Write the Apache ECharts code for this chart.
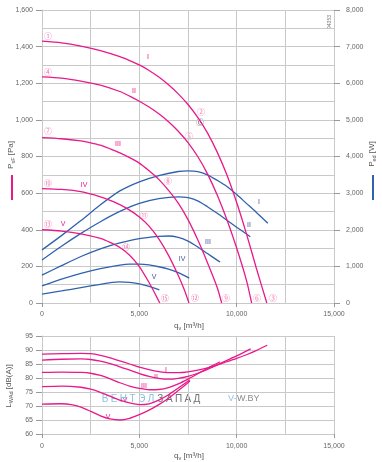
<!DOCTYPE html>
<html><head><meta charset="utf-8">
<script src="https://cdn.jsdelivr.net/npm/echarts@6/dist/echarts.min.js"></script>
<style>html,body{margin:0;padding:0;background:#fff}#c{width:382px;height:462px}</style>
</head><body><div id="c"></div>
<script>
// ---- Pressure curves P_sF [Pa] (left axis) ----
const qPI   = [0,1000,2000,3000,4000,4500,5000,5500,6000,6500,7000,7500,8000,8500,9000,9500,10000,10500,11000,11550];
const pI    = [1430,1421,1403,1378,1345,1324,1300,1270,1234,1192,1142,1084,1014,929,824,699,549,379,194,0];
const qPII  = [0,1000,2000,3000,4000,4500,5000,5500,6000,6500,7000,7500,8000,8500,9000,9500,10000,10500,10770];
const pII   = [1235,1228,1212,1190,1155,1130,1102,1070,1033,990,938,876,800,705,590,455,300,125,0];
const qPIII = [0,1000,2000,2500,3000,3500,4000,4500,5000,5500,6000,6500,7000,7500,8000,8500,9000,9230];
const pIII  = [903,897,885,875,862,842,820,794,764,722,675,615,545,455,345,220,85,0];
const qPIV  = [0,1000,2000,3000,3500,4000,4500,5000,5500,6000,6500,7000,7300,7550];
const pIV   = [625,620,608,580,560,537,507,470,420,350,260,150,75,0];
const qPV   = [0,1000,2000,3000,3500,4000,4500,5000,5500,5800,6050];
const pV    = [400,393,378,353,331,303,261,199,112,52,0];

// ---- Power curves P_ed [W] (right axis) ----
const qWI   = [0,1000,2000,3000,4000,5000,6000,7000,7500,8000,8500,9000,9500,10000,10500,11000,11600];
const wI    = [1450,1840,2250,2680,3060,3310,3480,3590,3610,3590,3500,3350,3180,2960,2720,2480,2180];
const qWII  = [0,1000,2000,3000,4000,5000,6000,7000,7500,8000,8500,9000,9500,10000,10700];
const wII   = [1175,1550,1900,2220,2500,2720,2850,2900,2880,2790,2630,2450,2260,2070,1810];
const qWIII = [0,1000,2000,3000,4000,5000,6000,6500,7000,7500,8000,8500,9000,9150];
const wIII  = [760,1020,1270,1480,1640,1760,1820,1830,1790,1690,1530,1350,1170,1120];
const qWIV  = [0,1000,2000,3000,4000,4500,5000,5500,6000,6500,7000,7560];
const wIV   = [465,650,810,940,1035,1060,1060,1040,990,925,830,680];
const qWV   = [0,1000,2000,3000,3500,4000,4500,5000,5500,6030];
const wV    = [245,330,420,510,555,575,565,520,455,360];

// ---- Sound power L_WAd [dB(A)] (lower chart) ----
const qNI   = [0,1000,2000,2500,3000,3500,4000,4500,5000,5500,6000,6500,7000,7500,8000,8500,9000,9500,10000,10500,11000,11570];
const nI    = [88.5,88.7,88.8,88.7,88.1,87.2,86.1,85.0,83.9,83.0,82.3,81.9,81.9,82.2,82.8,83.6,84.6,85.8,87.0,88.3,89.8,91.7];
const qNII  = [0,1000,2000,2500,3000,3500,4000,4500,5000,5500,6000,6500,7000,7500,8000,8500,9000,9500,10000,10720];
const nII   = [86.4,86.7,86.8,86.6,86.0,85.1,84.0,82.8,81.6,80.6,79.9,79.6,79.9,80.6,81.7,83.1,84.7,86.3,87.9,90.4];
const qNIII = [0,1000,2000,2500,3000,3500,4000,4500,5000,5500,6000,6500,7000,7500,8000,8500,9150];
const nIII  = [82.0,82.1,82.0,81.7,80.9,79.7,78.3,77.1,76.3,75.8,75.9,76.6,77.9,79.6,81.5,83.5,85.8];
const qNIV  = [0,1000,2000,2500,3000,3500,4000,4500,5000,5500,6000,6500,7000,7600];
const nIV   = [76.9,77.1,76.7,76.0,74.9,73.5,72.1,71.1,70.5,70.8,72.1,74.0,76.4,79.4];
const qNV   = [0,1000,1500,2000,2500,3000,3500,4000,4500,5000,5500,6000,6500,7000,7500,7600];
const nV    = [70.7,70.8,70.5,69.6,68.1,66.5,65.4,65.0,65.6,66.9,68.5,70.5,72.8,75.5,78.3,78.9];

const speedNames = ['I','II','III','IV','V'];

const PINK = '#e8198b', BLUE = '#2f62ad', GRID = '#c9c9c9', TXT = '#666';
const FONT = 'Liberation Sans, Arial, sans-serif';
const zip = (a,b) => a.map((x,i)=>[x,b[i]]);
const fmt = v => String(v).replace(/\B(?=(\d{3})+(?!\d))/g, ',');

function line(name, q, v, xi, yi, color){
  return {name, type:'line', xAxisIndex:xi, yAxisIndex:yi, data:zip(q,v), showSymbol:false,
    smooth:0.25, lineStyle:{color, width:1.3}, silent:true, z:yi===1?2:3};
}
const series = [
  line('PI',qPI,pI,0,0,PINK), line('PII',qPII,pII,0,0,PINK), line('PIII',qPIII,pIII,0,0,PINK),
  line('PIV',qPIV,pIV,0,0,PINK), line('PV',qPV,pV,0,0,PINK),
  line('WI',qWI,wI,0,1,BLUE), line('WII',qWII,wII,0,1,BLUE), line('WIII',qWIII,wIII,0,1,BLUE),
  line('WIV',qWIV,wIV,0,1,BLUE), line('WV',qWV,wV,0,1,BLUE),
  line('NI',qNI,nI,1,2,PINK), line('NII',qNII,nII,1,2,PINK), line('NIII',qNIII,nIII,1,2,PINK),
  line('NIV',qNIV,nIV,1,2,PINK), line('NV',qNV,nV,1,2,PINK)
];

const axLabel = {fontSize:7, color:TXT, fontFamily:FONT, formatter:fmt};
const split = {show:true, lineStyle:{color:GRID, width:1}};
function xAxis(gi, margin){
  return {type:'value', gridIndex:gi, min:0, max:15000, interval:5000,
    axisLine:{show:true, lineStyle:{color:GRID}}, axisTick:{show:true, length:4, lineStyle:{color:'#999'}},
    minorTick:{show:false, splitNumber:2}, minorSplitLine:split, splitLine:split,
    axisLabel:Object.assign({margin}, axLabel)};
}
const option = {
  animation:false,
  grid:[{left:42, top:10, width:292, height:293},{left:42, top:336, width:292, height:98}],
  xAxis:[xAxis(0,8), xAxis(1,9)],
  yAxis:[
    {type:'value', gridIndex:0, min:0, max:1600, interval:200, position:'left',
     axisLine:{show:true, lineStyle:{color:GRID}}, axisTick:{show:true, length:6, lineStyle:{color:'#999'}},
     minorTick:{show:false, splitNumber:2}, minorSplitLine:split, splitLine:split,
     axisLabel:Object.assign({margin:9}, axLabel)},
    {type:'value', gridIndex:0, min:0, max:8000, interval:1000, position:'right',
     axisLine:{show:true, lineStyle:{color:GRID}}, axisTick:{show:true, length:6, lineStyle:{color:'#999'}},
     splitLine:{show:false}, axisLabel:Object.assign({margin:12}, axLabel)},
    {type:'value', gridIndex:1, min:60, max:95, interval:5, position:'left',
     axisLine:{show:true, lineStyle:{color:GRID}}, axisTick:{show:true, length:6, lineStyle:{color:'#999'}},
     splitLine:split, axisLabel:Object.assign({margin:9}, axLabel)}
  ],
  series,
  graphic:[]
};

const G = option.graphic;
const rich = {a:{fontSize:8, color:'#555', fontFamily:FONT}, s:{fontSize:5.5, color:'#555', fontFamily:FONT, padding:[4,0,0,0]}};
function rtext(x,y,text,rot){
  G.push({type:'text', x, y, rotation:rot||0, silent:true,
    style:{text, rich, align:'center', verticalAlign:'middle', fill:'#555'}});
}
// axis titles
rtext(11,155,'{a|P}{s|sF}{a| [Pa]}',Math.PI/2);
rtext(372,154,'{a|P}{s|ed}{a| [W]}',Math.PI/2);
rtext(189,326,'{a|q}{s|v}{a| [m³/h]}',0);
rtext(189,456,'{a|q}{s|v}{a| [m³/h]}',0);
rtext(9,386,'{a|L}{s|WAd}{a| [dB(A)]}',Math.PI/2);
G.push({type:'line', silent:true, shape:{x1:12,y1:175,x2:12,y2:200}, style:{stroke:PINK, lineWidth:2}});
G.push({type:'line', silent:true, shape:{x1:373,y1:175,x2:373,y2:200}, style:{stroke:BLUE, lineWidth:2}});
G.push({type:'text', x:330, y:22, rotation:Math.PI/2, silent:true,
  style:{text:'94353', fontSize:5, fill:'#777', fontFamily:FONT, align:'center', verticalAlign:'middle'}});

// curve labels (roman numerals)
function lab(x,y,t,c,fs){ G.push({type:'text', x, y, silent:true,
  style:{text:t, fontSize:fs||7, fill:c, fontFamily:FONT, align:'center', verticalAlign:'middle'}}); }
const pinkLabelPos = [[148,57],[134,91],[118,144],[84,185],[63,224]];
const blueLabelPos = [[259,202],[249,225],[208,242],[182,259],[154,277]];
const noiseLabelPos = [[166,370],[156,377],[144,386],[124,400],[108,417]];
speedNames.forEach((n,i)=>{
  lab(pinkLabelPos[i][0],pinkLabelPos[i][1],n,PINK);
  lab(blueLabelPos[i][0],blueLabelPos[i][1],n,'#45549a');
  lab(noiseLabelPos[i][0],noiseLabelPos[i][1],n,PINK);
});

// circled operating-point numbers
const circ = [['①',48,36],['④',48,72],['⑦',48,131],['⑩',48,183],['⑬',48,224],
  ['②',201,112],['⑤',189,136],['⑧',168,181],['⑪',144,215],['⑭',126,247],
  ['③',273,298],['⑥',257,298],['⑨',226,298],['⑫',195,298],['⑮',165,298]];
circ.forEach(c=>G.push({type:'text', x:c[1], y:c[2], silent:true,
  style:{text:c[0], fontSize:8, fill:'#f27db5', fontFamily:'Noto Sans CJK SC', align:'center', verticalAlign:'middle'}}));
G.push({type:'text', x:200, y:122, silent:true,
  style:{text:'Ⓖ', fontSize:8, fill:'#666', fontFamily:'Noto Sans CJK SC', align:'center', verticalAlign:'middle'}});

// watermark
const wm1 = 'ВЕНТЭЛ', wm2 = 'ЗАПАД';
(wm1+wm2).split('').forEach((ch,i)=>G.push({type:'text', x:105+i*9.2, y:399, silent:true,
  style:{text:ch, fontSize:10, fill: i<wm1.length ? '#8cc3e6' : '#707070', fontFamily:FONT, align:'center', verticalAlign:'middle'}}));
G.push({type:'text', x:228, y:399, silent:true,
  style:{text:'V-', fontSize:9, fill:'#8cc3e6', fontFamily:FONT, verticalAlign:'middle'}});
G.push({type:'text', x:237, y:399, silent:true,
  style:{text:'W.BY', fontSize:9, fill:'#8a8a8a', fontFamily:FONT, verticalAlign:'middle'}});

const chart = echarts.init(document.getElementById('c'), null, {renderer:'canvas'});
chart.setOption(option);
</script></body></html>
